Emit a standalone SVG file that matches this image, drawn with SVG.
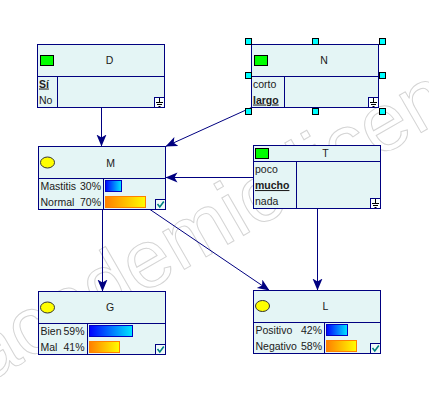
<svg xmlns="http://www.w3.org/2000/svg" width="429" height="410" viewBox="0 0 429 410">
<defs>
<linearGradient id="gBlue" x1="0" y1="0" x2="1" y2="0"><stop offset="0" stop-color="#0000ff"/><stop offset="1" stop-color="#00e8ff"/></linearGradient>
<linearGradient id="gOrange" x1="0" y1="0" x2="1" y2="0"><stop offset="0" stop-color="#ff7f00"/><stop offset="1" stop-color="#ffff00"/></linearGradient>
<marker id="arr" markerUnits="userSpaceOnUse" markerWidth="13" markerHeight="11" refX="12" refY="5" orient="auto"><path d="M0,0 L12,5 L0,10 L3,5 z" fill="#000080"/></marker>
<style>
.box{fill:#e4f5f5;stroke:#000080;stroke-width:1}
.div{stroke:#000080;stroke-width:1;fill:none}
.t{font-family:"Liberation Sans",Arial,sans-serif;font-size:10.5px;fill:#202020}
.h{text-anchor:middle}
.r{text-anchor:end}
.b{font-weight:bold;text-decoration:underline}
.green{fill:#00ff00;stroke:#000;stroke-width:1}
.yel{fill:#ffff00;stroke:#333;stroke-width:1}
.bb{fill:url(#gBlue);stroke:#0000c0;stroke-width:1}
.ob{fill:url(#gOrange);stroke:#ff8000;stroke-width:1}
.chk{fill:#f0fafa;stroke:#000080;stroke-width:1}
.mark{fill:none;stroke:#008080;stroke-width:1.6}
.gnd{fill:#f8ffff;stroke:#000080;stroke-width:1}
.gl{stroke:#000;stroke-width:1;fill:none}
.hdl{fill:#00ffff;stroke:#000;stroke-width:1}
.edge{stroke:#000080;stroke-width:1;fill:none;marker-end:url(#arr)}
.wm{font-family:"Liberation Sans",Arial,sans-serif;font-size:82px;fill:none;stroke:#d4d4d4;stroke-width:1}
</style>
</defs>
<rect width="429" height="410" fill="#ffffff"/>
<text class="wm" transform="translate(-14,384) rotate(-30)">academic license</text>

<g id="connectors">
<line class="edge" x1="101.5" y1="107.5" x2="101.5" y2="146.5"/>
<line class="edge" x1="251.5" y1="107.5" x2="165.5" y2="146.5"/>
<line class="edge" x1="253.5" y1="177.5" x2="165.5" y2="177.5"/>
<line class="edge" x1="102.5" y1="209.5" x2="102.5" y2="291.5"/>
<line class="edge" x1="150" y1="209.5" x2="269.5" y2="290.5"/>
<line class="edge" x1="317.5" y1="208.5" x2="317.5" y2="290.5"/>
</g>

<g id="node-D">
<rect class="box" x="37.5" y="44.5" width="127" height="63"/>
<path class="div" d="M37.5,76.5 H164.5 M57.5,76.5 V107.5"/>
<rect class="green" x="40.5" y="55.5" width="13" height="10"/>
<text class="t h" x="109.5" y="64">D</text>
<text class="t b" x="39" y="87.5">Sí</text>
<text class="t" x="39" y="103.5">No</text>
<rect class="gnd" x="154.5" y="97.5" width="10" height="10"/>
<path class="gl" d="M159.5,98 V102.5 M156,102.5 H163 M157,104.5 H162 M158.5,106.5 H160.5"/>
</g>

<g id="node-N">
<rect class="box" x="251.5" y="44.5" width="127" height="63"/>
<path class="div" d="M251.5,76.5 H378.5 M284.5,76.5 V107.5"/>
<rect class="green" x="254.5" y="55.5" width="13" height="10"/>
<text class="t h" x="324" y="64">N</text>
<text class="t" x="253" y="87.5">corto</text>
<text class="t b" x="253" y="103.5">largo</text>
<rect class="gnd" x="368.5" y="97.5" width="10" height="10"/>
<path class="gl" d="M373.5,98 V102.5 M370,102.5 H377 M371,104.5 H376 M372.5,106.5 H374.5"/>
<rect class="hdl" x="245.5" y="38.5" width="6" height="6"/>
<rect class="hdl" x="312.5" y="38.5" width="6" height="6"/>
<rect class="hdl" x="379.5" y="38.5" width="6" height="6"/>
<rect class="hdl" x="245.5" y="72.5" width="6" height="6"/>
<rect class="hdl" x="379.5" y="72.5" width="6" height="6"/>
<rect class="hdl" x="245.5" y="108.5" width="6" height="6"/>
<rect class="hdl" x="312.5" y="108.5" width="6" height="6"/>
<rect class="hdl" x="379.5" y="108.5" width="6" height="6"/>
</g>

<g id="node-M">
<rect class="box" x="38.5" y="146.5" width="127" height="63"/>
<path class="div" d="M38.5,178.5 H165.5 M103.5,178.5 V209.5"/>
<ellipse class="yel" cx="47.5" cy="162.5" rx="7" ry="5.5"/>
<text class="t h" x="110.5" y="166.5">M</text>
<text class="t" x="40.5" y="189.5">Mastitis</text>
<text class="t r" x="101" y="189.5">30%</text>
<text class="t" x="40.5" y="205.5">Normal</text>
<text class="t r" x="101" y="205.5">70%</text>
<rect class="bb" x="105.5" y="180.5" width="16" height="11"/>
<rect class="ob" x="105.5" y="196.5" width="40" height="11"/>
<rect class="chk" x="155.5" y="199.5" width="10" height="10"/>
<path class="mark" d="M157.5,204 L159.8,207 L163.8,201.5"/>
</g>

<g id="node-T">
<rect class="box" x="253.5" y="145.5" width="127" height="63"/>
<path class="div" d="M253.5,161.5 H380.5 M296.5,161.5 V208.5"/>
<rect class="green" x="255.5" y="148.5" width="13" height="10"/>
<text class="t h" x="325.5" y="157">T</text>
<text class="t" x="255" y="173">poco</text>
<text class="t b" x="255" y="189">mucho</text>
<text class="t" x="255" y="205">nada</text>
<rect class="gnd" x="370.5" y="198.5" width="10" height="10"/>
<path class="gl" d="M375.5,199 V203.5 M372,203.5 H379 M373,205.5 H378 M374.5,207.5 H376.5"/>
</g>

<g id="node-G">
<rect class="box" x="38.5" y="291.5" width="127" height="63"/>
<path class="div" d="M38.5,323.5 H165.5 M87.5,323.5 V354.5"/>
<ellipse class="yel" cx="47.5" cy="307.5" rx="7" ry="5.5"/>
<text class="t h" x="110" y="311">G</text>
<text class="t" x="40.5" y="335">Bien</text>
<text class="t r" x="84.5" y="335">59%</text>
<text class="t" x="40.5" y="351">Mal</text>
<text class="t r" x="84.5" y="351">41%</text>
<rect class="bb" x="89.5" y="325.5" width="43" height="11"/>
<rect class="ob" x="89.5" y="341.5" width="30" height="11"/>
<rect class="chk" x="155.5" y="344.5" width="10" height="10"/>
<path class="mark" d="M157.5,349 L159.8,352 L163.8,346.5"/>
</g>

<g id="node-L">
<rect class="box" x="253.5" y="290.5" width="127" height="63"/>
<path class="div" d="M253.5,322.5 H380.5 M324.5,322.5 V353.5"/>
<ellipse class="yel" cx="262.5" cy="306" rx="7" ry="5.5"/>
<text class="t h" x="325.5" y="310">L</text>
<text class="t" x="255.5" y="334">Positivo</text>
<text class="t r" x="322" y="334">42%</text>
<text class="t" x="255.5" y="350">Negativo</text>
<text class="t r" x="322" y="350">58%</text>
<rect class="bb" x="326.5" y="324.5" width="21" height="11"/>
<rect class="ob" x="326.5" y="340.5" width="30" height="11"/>
<rect class="chk" x="370.5" y="343.5" width="10" height="10"/>
<path class="mark" d="M372.5,348 L374.8,351 L378.8,345.5"/>
</g>
</svg>
